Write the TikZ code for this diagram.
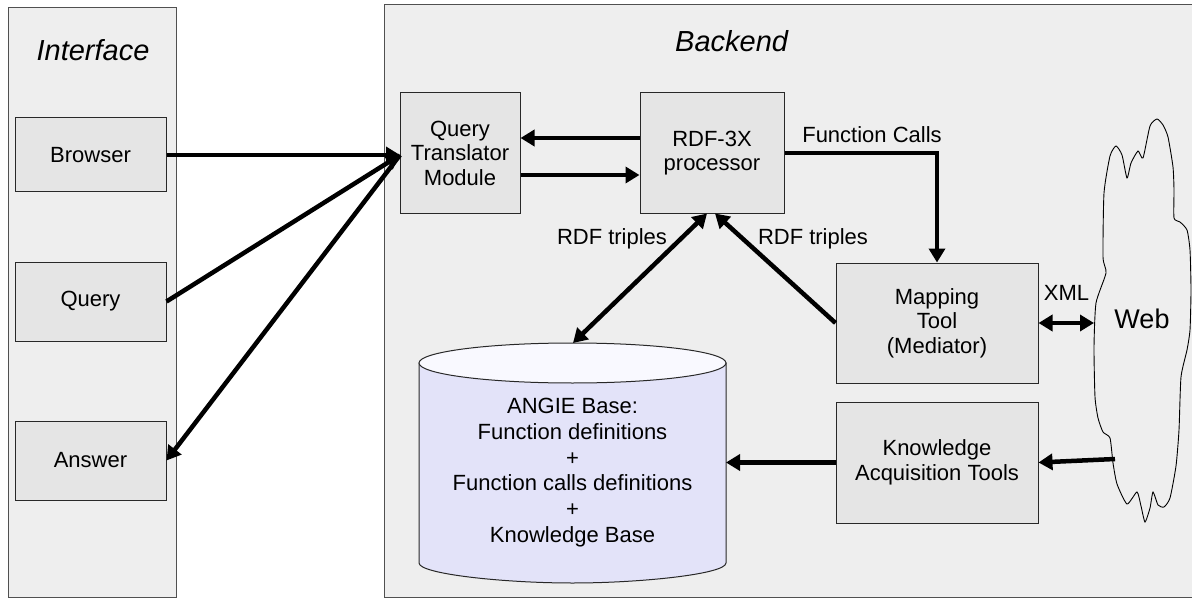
\documentclass[tikz,border=0pt]{standalone}
\usepackage{fontspec}
\setmainfont{Liberation Sans}
\usetikzlibrary{arrows.meta,calc}

\definecolor{panelfill}{RGB}{238,238,238}
\definecolor{boxfill}{RGB}{229,229,229}
\definecolor{dbbody}{RGB}{227,227,249}
\definecolor{dbcap}{RGB}{249,249,255}
\definecolor{panelline}{RGB}{80,80,80}
\definecolor{boxline}{RGB}{40,40,40}

\begin{document}
\begin{tikzpicture}[x=1pt,y=-1pt,
  panel/.style={draw=panelline, line width=1pt, fill=panelfill},
  block/.style={draw=boxline, line width=1pt, fill=boxfill, align=center,
    font=\fontsize{22}{24.5}\selectfont, inner sep=0pt},
  lbl/.style={font=\fontsize{22}{25}\selectfont, inner sep=0pt, anchor=base},
  heading/.style={font=\fontsize{29}{32}\selectfont\itshape, inner sep=0pt},
  tip/.tip={Triangle[length=14pt,width=16pt]},
  flow/.style={line width=4.5pt, -tip},
  both/.style={line width=4.5pt, tip-tip}
]
\useasboundingbox (0,0) rectangle (1192,599);
\fill[white] (0,0) rectangle (1192,599);

% the two swim lanes
\draw[panel] (8,7.5) rectangle (176,597);
\draw[panel] (384,5) rectangle (1198,597);
\node[heading, anchor=base] (iftitle) at (93,61) {Interface};
\node[heading, anchor=base west] (betitle) at (675,52) {Backend};

% interface blocks
\node[block, minimum width=151pt, minimum height=74pt] (browser) at (90.5,155) {Browser};
\node[block, minimum width=151pt, minimum height=79pt] (query) at (90.5,301.5) {Query};
\node[block, minimum width=151pt, minimum height=79pt] (answer) at (90.5,460.5) {Answer};

% backend blocks
\node[block, minimum width=120pt, minimum height=120pt] (qt) at (460,153) {Query\\Translator\\Module};
\node[block, minimum width=144pt, minimum height=120pt] (rdf) at (712,153) {RDF-3X\\processor};
\node[block, minimum width=202pt, minimum height=120pt] (map) at (937,323) {Mapping\\Tool\\(Mediator)};
\node[block, minimum width=202pt, minimum height=121pt] (kat) at (937,462.5) {Knowledge\\Acquisition Tools};

% knowledge store (cylinder)
\filldraw[draw=boxline, line width=1pt, fill=dbbody]
  (419,363) -- (419,563)
  .. controls (419,574) and (503.7,583) .. (572.5,583)
  .. controls (641.3,583) and (726,574) .. (726,563)
  -- (726,363) -- cycle;
\draw[boxline, line width=1pt, fill=dbcap] (572.5,363) ellipse [x radius=153.5, y radius=20];
\node[inner sep=0pt, align=center, font=\fontsize{22}{25.8}\selectfont] (db) at (572.5,472.5)
  {ANGIE Base:\\Function definitions\\+\\Function calls definitions\\+\\Knowledge Base};
\coordinate (dbT) at (573,343);
\coordinate (dbR) at (726,462.5);

% the web
\filldraw[draw=black, line width=0.9pt, fill=panelfill]
  plot[smooth cycle, tension=0.35] coordinates {
    (1116,146) (1110,156) (1104,193) (1103,257) (1106,273)
    (1096,303) (1094,347) (1095,397) (1098,418) (1103,432) (1110,438)
    (1113,463) (1117,484) (1127,504) (1137,492) (1141,506) (1145,522)
    (1150,508) (1153,492) (1158,505) (1164,507) (1170,498)
    (1176,466) (1179,430) (1181,377) (1187,350) (1190,330) (1191,290)
    (1190,250) (1187,230) (1180,222) (1174,218) (1174,190) (1173,167)
    (1168,137) (1163,125) (1157,119) (1150,126) (1143,158) (1138,151)
    (1131,163) (1127,178) (1122,155)};
\node[inner sep=0pt, anchor=base, font=\fontsize{27}{30}\selectfont] (web) at (1142,328) {Web};
\coordinate (webL) at (1094,323);
\coordinate (webK) at (1115,459);

% connectors
\coordinate (qtin) at (400,155);
\draw[flow] (browser.east) -- (qtin);
\draw[flow] (query.east) -- (qtin);
\draw[flow] (qtin) -- (answer.east);

\draw[flow] ($(rdf.west)+(0,-15)$) -- ($(qt.east)+(0,-15)$);
\draw[flow] ($(qt.east)+(0,22)$) -- ($(rdf.west)+(0,22)$);

\draw[flow] (rdf.east) -- (map.north |- rdf.east) -- (map.north);
\draw[flow] (map.west) -- ($(rdf.south)+(3,0)$);
\draw[both] ($(rdf.south)+(-5,0)$) -- (dbT);
\draw[both] (map.east) -- (webL);
\draw[flow] (webK) -- (kat.east);
\draw[flow] (kat.west) -- (dbR);

% connector labels
\node[lbl] (fclbl) at (872,143) {Function Calls};
\node[lbl] (rdflblA) at (612,244) {RDF triples};
\node[lbl] (rdflblB) at (813,244) {RDF triples};
\node[lbl] (xmllbl) at (1066.5,300) {XML};
\end{tikzpicture}
\end{document}
